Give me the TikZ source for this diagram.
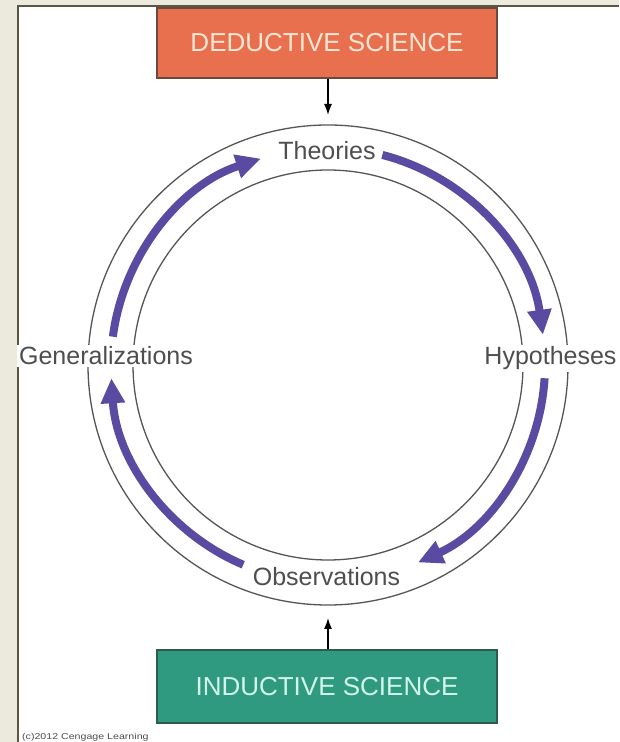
\documentclass[tikz,border=0pt]{standalone}
\usepackage{fontspec}
\setmainfont{Liberation Sans}
\usetikzlibrary{arrows.meta}
\definecolor{bgbeige}{HTML}{ECE9DD}
\definecolor{bordercol}{HTML}{5B5745}
\definecolor{coral}{HTML}{E8704F}
\definecolor{coraltext}{HTML}{FCE6D4}
\definecolor{coraledge}{HTML}{6A4A3E}
\definecolor{teal}{HTML}{2F9A7F}
\definecolor{tealtext}{HTML}{D2F6EC}
\definecolor{tealedge}{HTML}{2F5A4E}
\definecolor{cycpurple}{HTML}{5A4AA2}
\definecolor{labelgray}{HTML}{4E4E4E}
\definecolor{ringgray}{HTML}{555555}
\tikzset{
  sciencebox/.style={minimum width=340pt, minimum height=70pt, line width=1.5pt,
    font=\fontsize{26}{29}\selectfont, inner sep=0pt},
  cyclabel/.style={fill=white, inner sep=2pt, text=labelgray, anchor=base,
    font=\fontsize{25}{28}\selectfont},
  ring/.style={draw=ringgray, line width=1.3pt},
  cycarrow/.style={draw=cycpurple, line width=8pt,
    -{Triangle[width=23pt,length=25pt]}},
  smallarrow/.style={draw=black, line width=1.4pt, -{Latex[length=11pt,width=8pt]}},
}
\begin{document}
\begin{tikzpicture}[x=1pt,y=1pt]
\useasboundingbox (0,0) rectangle (619,742);
% background and panel
\fill[bgbeige] (0,0) rectangle (619,742);
\fill[white] (17.5,0) rectangle (619,736);
\draw[bordercol, line width=2pt] (17.5,0) -- (17.5,736) -- (619,736);
% boxes
\node[sciencebox, fill=coral, draw=coraledge, text=coraltext] (ded) at (327,699) {DEDUCTIVE SCIENCE};
\node[sciencebox, fill=teal, draw=tealedge, text=tealtext, minimum height=73pt] (ind) at (327,55.5) {INDUCTIVE SCIENCE};
% rings
\coordinate (C) at (328,377);
\draw[ring] (C) circle[radius=240];
\draw[ring] (C) circle[radius=195];
% labels
\node[cyclabel] (theo) at (327,582) {Theories};
\node[cyclabel] (gen) at (106,377) {Generalizations};
\node[cyclabel] (hyp) at (550.5,377) {Hypotheses};
\node[cyclabel] (obs) at (326.5,156) {Observations};
% cycle arrows
\draw[cycarrow] ([shift={(172.5:217)}]C) arc[start angle=172.5, end angle=108, radius=217];
\draw[cycarrow] ([shift={(75.5:217)}]C) arc[start angle=75.5, end angle=8, radius=217];
\draw[cycarrow] ([shift={(-3.5:217)}]C) arc[start angle=-3.5, end angle=-65.5, radius=217];
\draw[cycarrow] ([shift={(-113:217)}]C) arc[start angle=-113, end angle=-176.5, radius=217];
% small arrows
\coordinate (toptip) at (328,627);
\coordinate (bottip) at (328,124);
\draw[smallarrow] (ded.south -| toptip) -- (toptip);
\draw[smallarrow] (ind.north -| bottip) -- (bottip);
% credit
\node[anchor=west, inner sep=0pt, text=labelgray, font=\fontsize{8.5}{9}\selectfont] (credit) at (22,5) {\scalebox{1.25}[1]{(c)2012 Cengage Learning}};
\end{tikzpicture}
\end{document}
